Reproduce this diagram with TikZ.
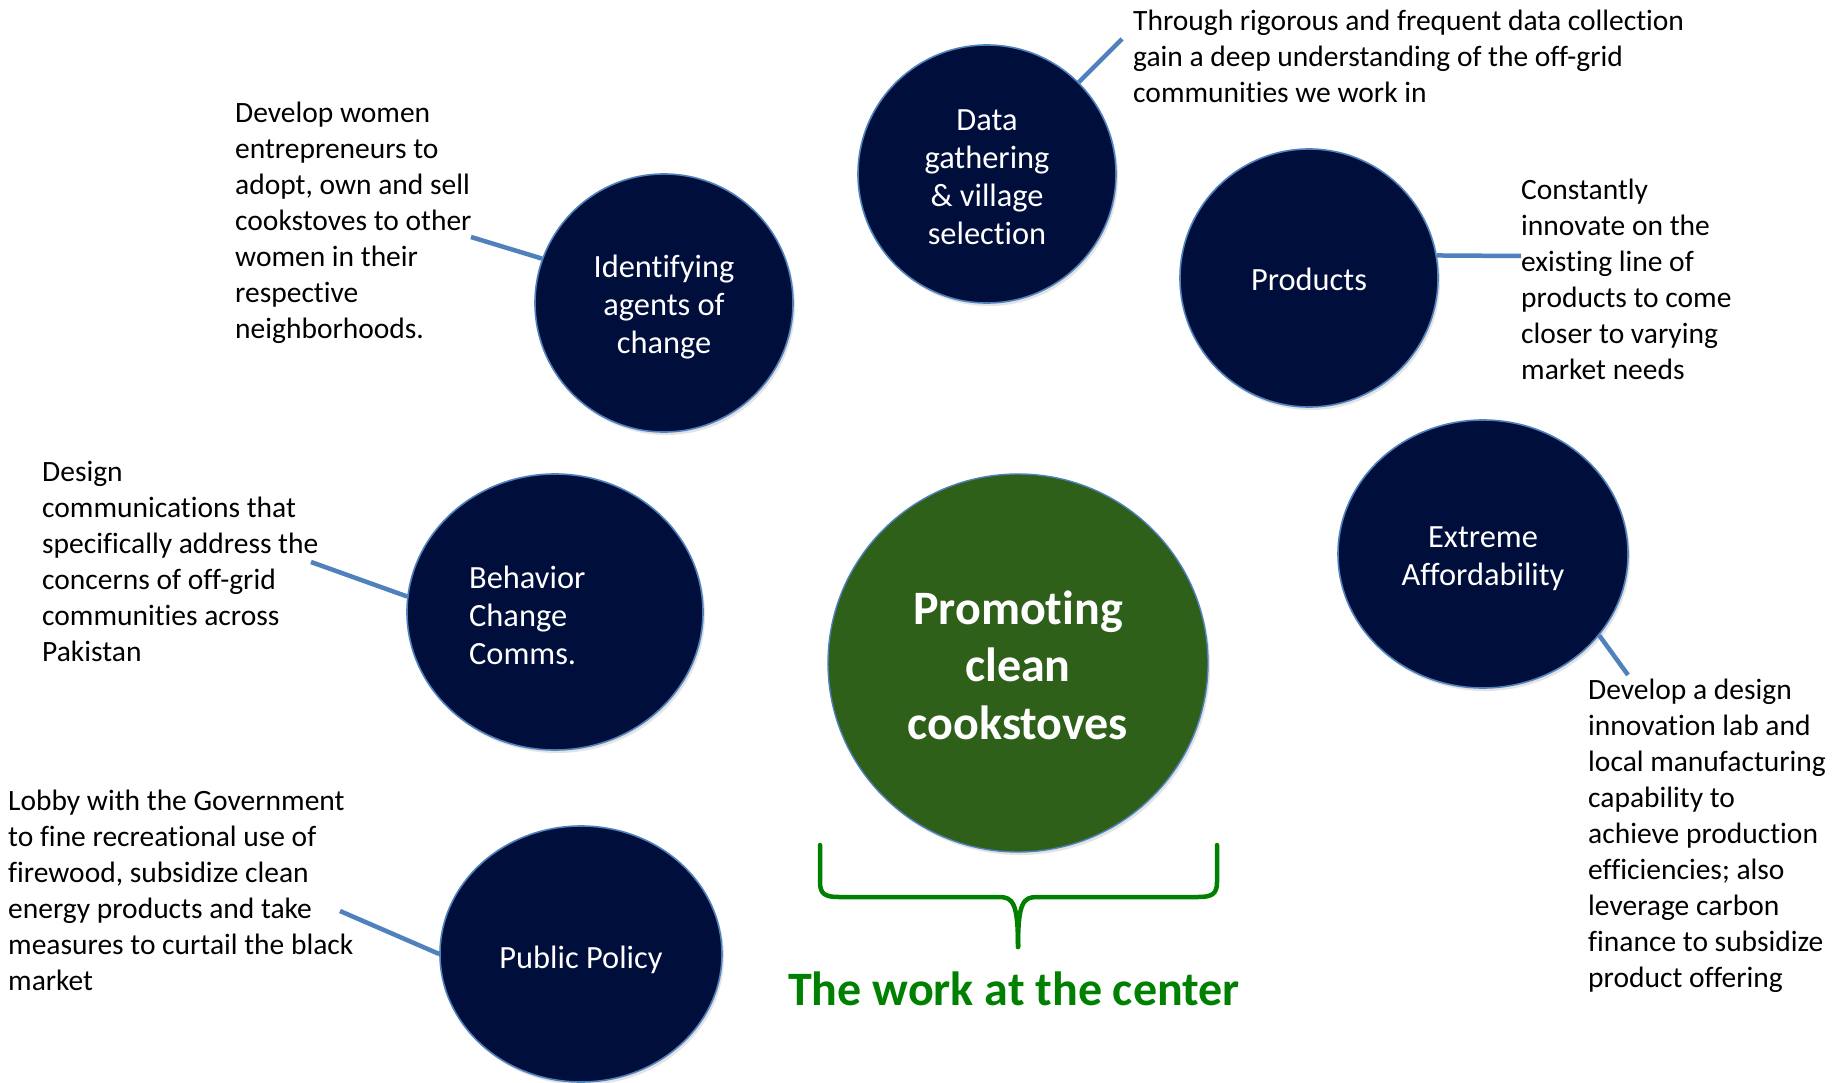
\documentclass[tikz,border=0pt]{standalone}
\usepackage{fontspec}
\setmainfont{Carlito}[Ligatures=NoCommon]
\usetikzlibrary{shapes.geometric,shadows}
\definecolor{navy}{RGB}{0,14,60}
\definecolor{rimblue}{RGB}{79,129,189}
\definecolor{stovegreen}{RGB}{46,96,26}
\definecolor{labelgreen}{RGB}{0,128,0}
\begin{document}
\begin{tikzpicture}[x=1pt,y=-1pt,
  disc/.style={ellipse, fill=navy, draw=rimblue, line width=1.6pt, inner sep=0pt,
    drop shadow={shadow xshift=2pt, shadow yshift=-3pt, opacity=0.22}},
  disctext/.style={text=white, align=center, inner sep=0pt,
    font=\fontsize{32.4}{38}\selectfont},
  hub/.style={ellipse, fill=stovegreen, draw=rimblue, line width=1.4pt, inner sep=0pt,
    drop shadow={shadow xshift=2pt, shadow yshift=-3pt, opacity=0.22}},
  note/.style={anchor=north west, inner sep=0pt, align=left, text=black,
    font=\fontsize{29.5}{36}\selectfont},
  link/.style={draw=rimblue, line width=4.5pt},
  bracket/.style={draw=labelgreen, line width=4.5pt, line cap=round, line join=round}]

\useasboundingbox[fill=white] (0,0) rectangle (1839,1083);

% theme discs
\node[disc, minimum width=258pt, minimum height=258pt] (data) at (987,174) {};
\node[disctext] (datatext) at (987,177.5) {Data\\gathering\\\& village\\selection};
\node[disc, minimum width=258pt, minimum height=258pt] (ident) at (664,303) {};
\node[disctext] (identtext) at (664,307) {Identifying\\agents of\\change};
\node[disc, minimum width=258pt, minimum height=258pt] (prod) at (1309,278) {};
\node[disctext] (prodtext) at (1309,279) {Products};
\node[disc, minimum width=290pt, minimum height=268pt] (afford) at (1483,554) {};
\node[disctext] (affordtext) at (1483,559) {Extreme\\Affordability};
\node[disc, minimum width=296pt, minimum height=276pt] (behav) at (555,612) {};
\node[disctext, align=left, anchor=west] (behavtext) at (469,615) {Behavior\\Change\\Comms.};
\node[disc, minimum width=282pt, minimum height=256pt] (policy) at (581,954) {};
\node[disctext] (policytext) at (581,960) {Public Policy};

% central disc
\node[hub, minimum width=380pt, minimum height=378pt] (hub) at (1018,663) {};
\node[text=white, align=center, inner sep=0pt, font=\bfseries\fontsize{48}{57.5}\selectfont]
  (hubtext) at (1018,665) {Promoting\\clean\\cookstoves};

% descriptions
\node[note] (datanote) at (1133,10)
  {Through rigorous and frequent data collection\\gain a deep understanding of the off-grid\\communities we work in};
\node[note] (identnote) at (235,102)
  {Develop women\\entrepreneurs to\\adopt, own and sell\\cookstoves to other\\women in their\\respective\\neighborhoods.};
\node[note] (prodnote) at (1521,179)
  {Constantly\\innovate on the\\existing line of\\products to come\\closer to varying\\market needs};
\node[note] (behavnote) at (42,461)
  {Design\\communications that\\specifically address the\\concerns of off-grid\\communities across\\Pakistan};
\node[note] (policynote) at (8,790)
  {Lobby with the Government\\to fine recreational use of\\firewood, subsidize clean\\energy products and take\\measures to curtail the black\\market};
\node[note] (affordnote) at (1588,679)
  {Develop a design\\innovation lab and\\local manufacturing\\capability to\\achieve production\\efficiencies; also\\leverage carbon\\finance to subsidize\\product offering};

% connector ends
\coordinate (dataend) at (1122,39);
\coordinate (identend) at (471,237);
\coordinate (prodend) at (1521,256);
\coordinate (affordend) at (1628,675);
\coordinate (behavend) at (311,562);
\coordinate (policyend) at (340,911);

\draw[link] (data.45) -- (dataend);
\draw[link] (ident.160) -- (identend);
\draw[link] (prod.10) -- (prodend);
\draw[link] (afford.-35) -- (affordend);
\draw[link] (behav.174) -- (behavend);
\draw[link] (policy.180) -- (policyend);

% bracket under the central disc
\coordinate (bl) at (820,845);
\coordinate (br) at (1217,845);
\coordinate (btip) at (1018,947);
\draw[bracket] (bl) -- (820,882) .. controls (820,894) and (825,897) .. (839,897)
  -- (999,897) .. controls (1013,897) and (1018,903) .. (btip);
\draw[bracket] (br) -- (1217,882) .. controls (1217,894) and (1212,897) .. (1198,897)
  -- (1037,897) .. controls (1023,897) and (1018,903) .. (btip);

\node[text=labelgreen, inner sep=0pt, font=\bfseries\fontsize{48}{58}\selectfont]
  (worklabel) at (1014,989) {The work at the center};
\end{tikzpicture}
\end{document}
